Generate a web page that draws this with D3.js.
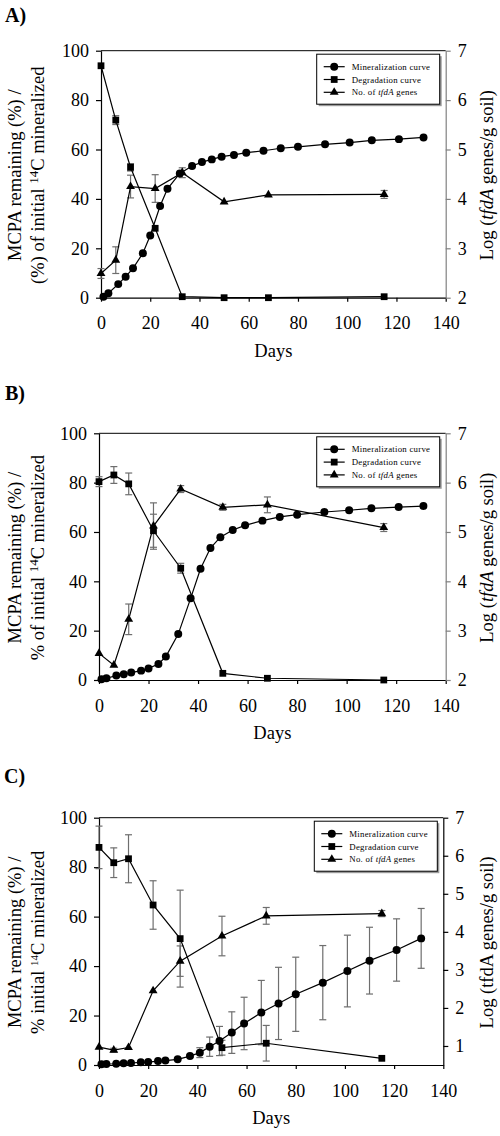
<!DOCTYPE html>
<html><head><meta charset="utf-8">
<script src="https://cdn.jsdelivr.net/npm/d3@7"></script>
<style>body{margin:0;background:#fff}svg{display:block}svg text{font-family:"Liberation Serif","Times New Roman",serif;fill:#000}</style>
</head><body>
<svg id="c" width="500" height="1136"></svg>
<script>
// ---------- data ----------
const xTicks = [0,20,40,60,80,100,120,140];
const leftTicks = [0,20,40,60,80,100];
const rightTicksAB = [2,3,4,5,6,7];
const rightTicksC = [1,2,3,4,5,6,7];
const legendLabels = ["Mineralization curve","Degradation curve","No. of "];

const daysMin = [1,3,7,10,13,17,20,24,27,32,37,41,45,49,54,59,66,73,80,91,101,110,121,131];
const daysDeg = [0,6,12,22,33,50,68,115];
const daysGene = [0,6,12,22,33,50,68,115];

// Panel A
const minA = [0.4,1.8,5.5,8.5,11.9,18,25.2,37.1,44.1,50.3,53.3,54.9,56,57.1,57.8,58.7,59.5,60.5,61.1,62.1,62.8,63.7,64.2,64.9];
const minAerr = [0,0,0,0,0,0,0,0,0,0,0,0,0,0,0,0,0,0,0,0,0,0,0,0];
const degA = [93.9,71.9,52.8,28.1,0.4,0,0,0.4];
const degAerr = [0,1.8,1.5,0,0,0,0,0];
const geneA = [2.49,2.76,4.25,4.21,4.53,3.94,4.08,4.09];
const geneAerr = [0.1,0.27,0.23,0.28,0.1,0,0,0.08];

// Panel B
const minB = [0.3,0.7,1.8,2.3,3.0,3.8,4.7,6.5,9.5,18.6,33.1,45.1,53.5,57.9,60.8,62.7,64.6,66.1,67.0,68.1,68.8,69.6,70.1,70.5];
const minBerr = [0,0,0,0,0,0,0,0,0,0,0,0,0,0,0,0,0,0,0,0,0,0,0,0];
const degB = [80.4,83.1,79.5,60.5,45.3,2.7,0.7,0];
const degBerr = [2,3.4,4.4,6.7,2,0,0,0];
const geneB = [2.54,2.30,3.23,5.12,5.87,5.5,5.55,5.09];
const geneBerr = [0,0,0.31,0.47,0.07,0.06,0.16,0.08];

// Panel C
const minC = [0.3,0.4,0.5,0.7,0.8,1.1,1.2,1.6,1.8,2.3,3.6,5.0,7.4,9.7,13.1,16.8,21.2,24.9,28.6,33.3,38,42.2,46.5,51.2];
const minCerr = [0,0,0,0,0,0,0,0,0,0,0.5,2,3.9,5.9,8.4,10.6,13,14.6,15,15,14.5,13.5,12.6,12.1];
const degC = [88,81.8,83.4,64.7,51.1,7,8.8,2.7];
const degCerr = [8.6,6,9.7,9.8,19.6,3,7.2,0];
const geneC = [0.97,0.89,0.96,2.45,3.23,3.89,4.42,4.48];
const geneCerr = [0,0.05,0,0,0.4,0.52,0.22,0.08];

// ---------- drawing ----------
const FONT = '"Liberation Serif","Times New Roman",serif';
const svg = d3.select("#c");
svg.append("rect").attr("width",500).attr("height",1136).attr("fill","#fff");

function panel(cfg){
  const g = svg.append("g");
  const x = d3.scaleLinear().domain([0,140]).range([cfg.x0,cfg.x1]);
  const yL = d3.scaleLinear().domain([0,100]).range([cfg.yb,cfg.yt]);
  const yR = d3.scaleLinear().domain(cfg.rDomain).range([cfg.yb,cfg.yt]);
  const FS = 18, TFS = 18.5;

  // panel label
  g.append("text").attr("x",cfg.labX).attr("y",cfg.labY).style("font-size","20px").style("font-weight","bold").text(cfg.label);

  // top border
  g.append("line").attr("x1",cfg.x0).attr("x2",cfg.x1).attr("y1",cfg.yt).attr("y2",cfg.yt).attr("stroke","#000").attr("stroke-width",1);

  // axes
  const ax = g.append("g").attr("transform",`translate(0,${cfg.yb})`)
    .call(d3.axisBottom(x).tickValues(xTicks).tickFormat(d3.format("d")).tickSize(4).tickSizeOuter(0).tickPadding(15));
  const al = g.append("g").attr("transform",`translate(${cfg.x0},0)`)
    .call(d3.axisLeft(yL).tickValues(leftTicks).tickFormat(d3.format("d")).tickSize(5).tickSizeOuter(0).tickPadding(7));
  const ar = g.append("g").attr("transform",`translate(${cfg.x1},0)`)
    .call(d3.axisRight(yR).tickValues(cfg.rTicks).tickFormat(d3.format("d")).tickSize(5).tickSizeOuter(0).tickPadding(7));
  [ax,al,ar].forEach(a=>{
    a.attr("font-family",null).attr("font-size",null);
    a.selectAll("text").style("font-family",FONT).style("font-size",FS+"px").attr("fill","#000");
    a.selectAll("path,line").attr("stroke","#000").attr("stroke-width",1.2);
  });
  ax.selectAll("text").attr("dy","0.71em");
  ar.selectAll("path,line").attr("stroke",cfg.rColor);

  // axis titles
  g.append("text").attr("x",(cfg.x0+cfg.x1)/2).attr("y",cfg.yb+59).attr("text-anchor","middle").style("font-size",TFS+"px").text("Days");
  const cy = (cfg.yt+cfg.yb)/2 + 1;
  g.append("text").attr("transform",`translate(21,${cy}) rotate(-90)`).attr("text-anchor","middle").style("font-size",TFS+"px").text("MCPA remaining (%) /");
  const t2 = g.append("text").attr("transform",`translate(44,${cy}) rotate(-90)`).attr("text-anchor","middle").style("font-size",TFS+"px");
  t2.append("tspan").text(cfg.leftLine2a);
  t2.append("tspan").attr("dy",-6).style("font-size",cfg.supSize+"px").text("14");
  t2.append("tspan").attr("dy",6).text("C mineralized");
  const t3 = g.append("text").attr("transform",`translate(493,${cy}) rotate(-90)`).attr("text-anchor","middle").style("font-size",TFS+"px");
  t3.append("tspan").text("Log (");
  t3.append("tspan").style("font-style",cfg.italicGene?"italic":"normal").text("tfdA");
  t3.append("tspan").text(" genes/g soil)");

  // error bars
  const errCol = "#6e6e6e";
  function errs(days, vals, err, ys){
    days.forEach((d,i)=>{
      if(!err[i]) return;
      const xx = x(d), y1 = ys(vals[i]+err[i]), y2 = ys(vals[i]-err[i]);
      g.append("line").attr("x1",xx).attr("x2",xx).attr("y1",y1).attr("y2",y2).attr("stroke",errCol).attr("stroke-width",1.2);
      [y1,y2].forEach(yy=>g.append("line").attr("x1",xx-3.5).attr("x2",xx+3.5).attr("y1",yy).attr("y2",yy).attr("stroke",errCol).attr("stroke-width",1.2));
    });
  }
  errs(daysMin,cfg.min,cfg.minErr,yL);
  errs(daysDeg,cfg.deg,cfg.degErr,yL);
  errs(daysGene,cfg.gene,cfg.geneErr,yR);

  // lines
  const line = (ys)=>d3.line().x(d=>x(d[0])).y(d=>ys(d[1]));
  function series(days, vals, ys, sym){
    const pts = days.map((d,i)=>[d,vals[i]]);
    g.append("path").attr("d",line(ys)(pts)).attr("fill","none").attr("stroke","#000").attr("stroke-width",1.2);
    g.selectAll(null).data(pts).enter().append("path")
      .attr("transform",d=>`translate(${x(d[0])},${ys(d[1])})`)
      .attr("d",sym).attr("fill","#000");
  }
  const circ = d3.symbol().type(d3.symbolCircle).size(50)();
  const sq = d3.symbol().type(d3.symbolSquare).size(46)();
  const tri = d3.symbol().type(d3.symbolTriangle).size(34)();
  series(daysDeg,cfg.deg,yL,sq);
  series(daysGene,cfg.gene,yR,tri);
  series(daysMin,cfg.min,yL,circ);

  // legend
  const lw = 123, lh = 50;
  const lx = cfg.x1 - 6 - lw, ly = cfg.yt + 3.5;
  g.append("rect").attr("x",lx+2).attr("y",ly+2).attr("width",lw).attr("height",lh).attr("fill","#9a9a9a");
  g.append("rect").attr("x",lx).attr("y",ly).attr("width",lw).attr("height",lh).attr("fill","#fff").attr("stroke","#000").attr("stroke-width",1);
  const syms = [circ, sq, tri];
  legendLabels.forEach((lab,i)=>{
    const yy = ly + 12.5 + i*12.8;
    g.append("line").attr("x1",lx+7).attr("x2",lx+28).attr("y1",yy).attr("y2",yy).attr("stroke","#000").attr("stroke-width",1.2);
    g.append("path").attr("transform",`translate(${lx+17.5},${yy})`).attr("d",syms[i]).attr("fill","#000");
    const t = g.append("text").attr("x",lx+35).attr("y",yy+3).style("font-size","8.8px").style("letter-spacing","0.25px");
    t.append("tspan").text(lab);
    if(i===2){ t.append("tspan").style("font-style","italic").text("tfdA"); t.append("tspan").text(" genes"); }
  });
}

panel({label:"A)",labX:5,labY:22,x0:101,x1:445.7,yt:50.7,yb:297.7,rDomain:[2,7],rTicks:rightTicksAB,rColor:"#808080",
  leftLine2a:"(%) of initial ",supSize:13,italicGene:true,
  min:minA,minErr:minAerr,deg:degA,degErr:degAerr,gene:geneA,geneErr:geneAerr});
panel({label:"B)",labX:5,labY:400,x0:99,x1:445.7,yt:433.3,yb:680,rDomain:[2,7],rTicks:rightTicksAB,rColor:"#808080",
  leftLine2a:"% of initial ",supSize:13,italicGene:true,
  min:minB,minErr:minBerr,deg:degB,degErr:degBerr,gene:geneB,geneErr:geneBerr});
panel({label:"C)",labX:4,labY:783,x0:99,x1:443.3,yt:817.7,yb:1065,rDomain:[0.5,7],rTicks:rightTicksC,rColor:"#000",
  leftLine2a:"% initial ",supSize:11,italicGene:false,
  min:minC,minErr:minCerr,deg:degC,degErr:degCerr,gene:geneC,geneErr:geneCerr});
</script>
</body></html>
